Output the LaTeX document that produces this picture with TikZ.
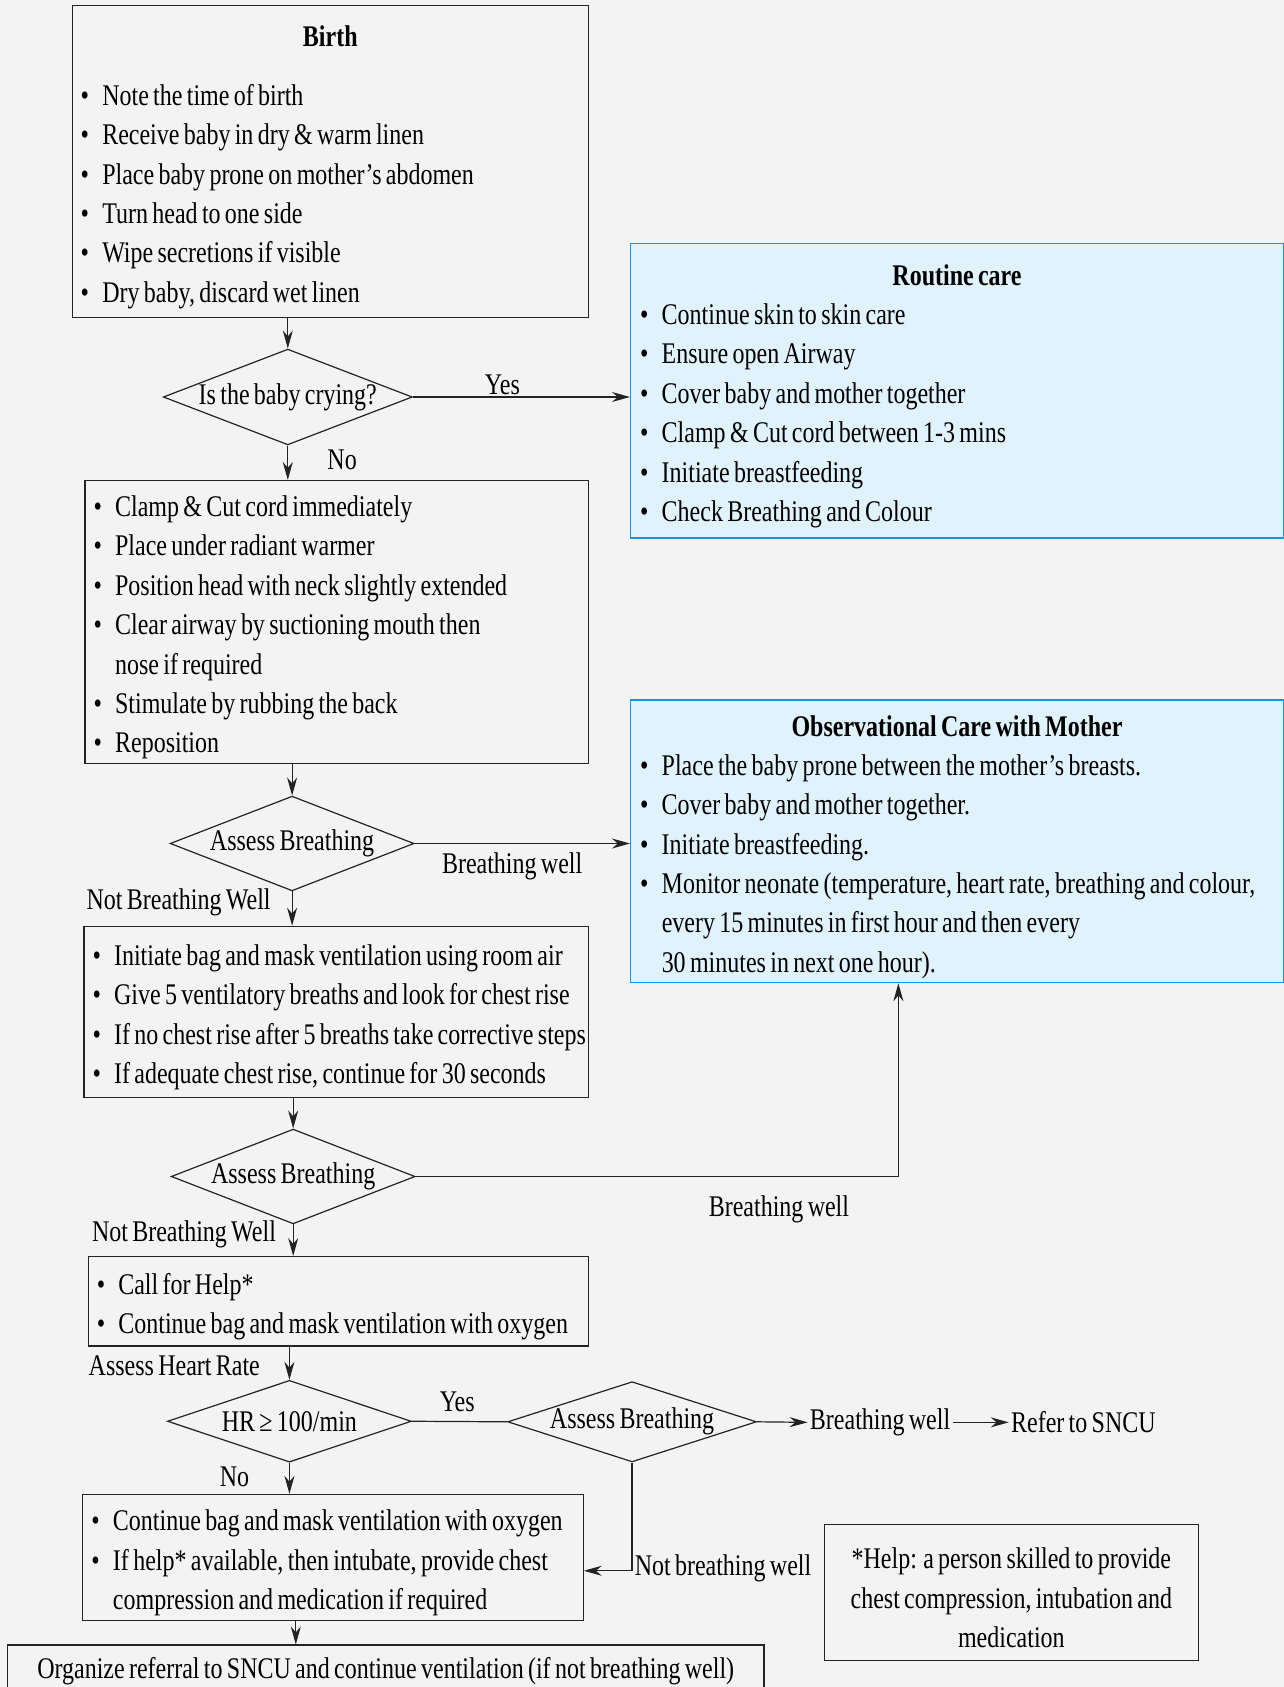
\documentclass[tikz,border=0pt]{standalone}
\usepackage{fontspec}
\setmainfont{Liberation Serif}[FakeStretch=0.8, WordSpace=0.72]
\usetikzlibrary{positioning,arrows.meta,shapes.geometric}

\definecolor{bgcol}{RGB}{243,243,243}
\definecolor{linecol}{RGB}{35,35,35}
\definecolor{bluefill}{RGB}{224,242,252}
\definecolor{blueline}{RGB}{20,150,222}

\newcommand{\fs}{\fontsize{15}{19.7}\selectfont}
\newcommand{\bul}[1]{\mbox{\makebox[10.8pt][l]{\textbullet}#1}}
\newcommand{\cnt}[1]{\mbox{\hspace*{10.8pt}#1}}
\newcommand{\ttl}[1]{\makebox[\linewidth]{\textbf{#1}}}
\newcommand{\pad}{\rule{0pt}{16pt}}

\tikzset{
  box/.style={draw=linecol, line width=0.6pt, rectangle, align=flush left,
    inner xsep=4.3pt, inner ysep=2pt, font=\fs},
  bluebox/.style={box, draw=blueline, fill=bluefill, inner xsep=4.8pt},
  notebox/.style={box, align=flush center},
  decision/.style={draw=linecol, line width=0.6pt, diamond, inner sep=0pt,
    minimum width=122pt, minimum height=47.4pt, aspect=2.6, font=\fs},
  lbl/.style={inner sep=1pt, font=\fs},
  arr/.style={draw=linecol, line width=0.6pt, -{Stealth[length=9pt,width=5pt]}},
  plain/.style={draw=linecol, line width=0.6pt},
}

\begin{document}
\begin{tikzpicture}[x=0.5382pt, y=-0.5382pt]
  \fill[bgcol] (0,0) rectangle (1193,1568);
  \useasboundingbox (0,0) rectangle (1193,1568);

  % left column
  \node[box, text width=249.7pt, minimum height=156.1pt] (birth) at (307,150)
    {\pad\ttl{Birth}\\[9.9pt]
     \bul{Note the time of birth}\\
     \bul{Receive baby in dry \& warm linen}\\
     \bul{Place baby prone on mother’s abdomen}\\
     \bul{Turn head to one side}\\
     \bul{Wipe secretions if visible}\\
     \bul{Dry baby, discard wet linen}};
  \node[decision] (cry) at (267.5,369) {Is the baby crying?};
  \node[box, text width=243.3pt, minimum height=138.9pt] (clamp) at (313,578)
    {\pad\bul{Clamp \& Cut cord immediately}\\
     \bul{Place under radiant warmer}\\
     \bul{Position head with neck slightly extended}\\
     \bul{Clear airway by suctioning mouth then}\\
     \cnt{nose if required}\\
     \bul{Stimulate by rubbing the back}\\
     \bul{Reposition}};
  \node[decision] (ab1) at (271.5,784) {Assess Breathing};
  \node[box, text width=243.8pt, minimum height=85.6pt] (bag) at (312.5,940.5)
    {\pad\bul{Initiate bag and mask ventilation using room air}\\
     \bul{Give 5 ventilatory breaths and look for chest rise}\\
     \bul{If no chest rise after 5 breaths take corrective steps}\\
     \bul{If adequate chest rise, continue for 30 seconds}};
  \node[decision] (ab2) at (272.5,1093.5) {Assess Breathing};
  \node[box, text width=241.7pt, minimum height=44.7pt] (call) at (314.5,1209.5)
    {\pad\bul{Call for Help*}\\
     \bul{Continue bag and mask ventilation with oxygen}};
  \node[decision, minimum height=40.9pt, aspect=3] (hr) at (269,1321) {HR ≥ 100/min};
  \node[decision, minimum width=121pt, minimum height=39.3pt, aspect=3.1] (ab3) at (587.5,1321.5) {Assess Breathing};
  \node[box, text width=241.7pt, minimum height=63pt] (intub) at (309.5,1447.5)
    {\pad\bul{Continue bag and mask ventilation with oxygen}\\
     \bul{If help* available, then intubate, provide chest}\\
     \cnt{compression and medication if required}};
  \node[notebox, minimum width=378.4pt, minimum height=25.8pt] (refer) at (358.5,1553)
    {Organize referral to SNCU and continue ventilation (if not breathing well)};

  % right column
  \node[bluebox, text width=317pt, minimum height=147.5pt] (routine) at (889.5,363)
    {\pad\ttl{Routine care}\\
     \bul{Continue skin to skin care}\\
     \bul{Ensure open Airway}\\
     \bul{Cover baby and mother together}\\
     \bul{Clamp \& Cut cord between 1-3 mins}\\
     \bul{Initiate breastfeeding}\\
     \bul{Check Breathing and Colour}};
  \node[bluebox, text width=317pt, minimum height=141pt] (obs) at (889.5,782)
    {\pad\ttl{Observational Care with Mother}\\
     \bul{Place the baby prone between the mother’s breasts.}\\
     \bul{Cover baby and mother together.}\\
     \bul{Initiate breastfeeding.}\\
     \bul{Monitor neonate (temperature, heart rate, breathing and colour,}\\
     \cnt{every 15 minutes in first hour and then every}\\
     \cnt{30 minutes in next one hour).}};
  \node[notebox, text width=178.7pt, minimum height=67.8pt] (help) at (940,1480)
    {\pad*Help: a person skilled to provide\\
     chest compression, intubation and\\
     medication};

  % labels
  \node[lbl] (yes1) at (467,358) {Yes};
  \node[lbl] (no1) at (318,427) {No};
  \node[lbl] (bw1) at (476,805) {Breathing well};
  \node[lbl] (nbw1) at (166,839) {Not Breathing Well};
  \node[lbl] (bw2) at (724,1124) {Breathing well};
  \node[lbl] (nbw2) at (171,1147) {Not Breathing Well};
  \node[lbl] (ahr) at (162,1269) {Assess Heart Rate};
  \node[lbl] (yes2) at (425,1303) {Yes};
  \node[lbl] (no2) at (218,1373) {No};
  \node[lbl] (bw3) at (818,1322) {Breathing well};
  \node[lbl] (sncu) at (1007,1322) {Refer to SNCU};
  \node[lbl] (nbw3) at (672,1458) {Not breathing well};
  \coordinate (obsin) at (835,0);

  % connectors
  \draw[arr] (cry.north |- birth.south) -- (cry.north);
  \draw[arr] (cry.east) -- (cry.east -| routine.west);
  \draw[arr] (cry.south) -- (cry.south |- clamp.north);
  \draw[arr] (ab1.north |- clamp.south) -- (ab1.north);
  \draw[arr] (ab1.east) -- (ab1.east -| obs.west);
  \draw[arr] (ab1.south) -- (ab1.south |- bag.north);
  \draw[arr] (ab2.north |- bag.south) -- (ab2.north);
  \draw[arr] (ab2.east) -| (obsin |- obs.south);
  \draw[arr] (ab2.south) -- (ab2.south |- call.north);
  \draw[arr] (hr.north |- call.south) -- (hr.north);
  \draw[plain] (hr.east) -- (ab3.west);
  \draw[arr] (ab3.east) -- (bw3.west);
  \draw[arr] (bw3.east) -- (sncu.west);
  \draw[arr] (ab3.south) |- ([yshift=-6.7pt]intub.east);
  \draw[arr] (hr.south) -- (hr.south |- intub.north);
  \draw[arr] ([xshift=-18.6pt]intub.south) -- ([xshift=-18.6pt]intub.south |- refer.north);
\end{tikzpicture}
\end{document}
